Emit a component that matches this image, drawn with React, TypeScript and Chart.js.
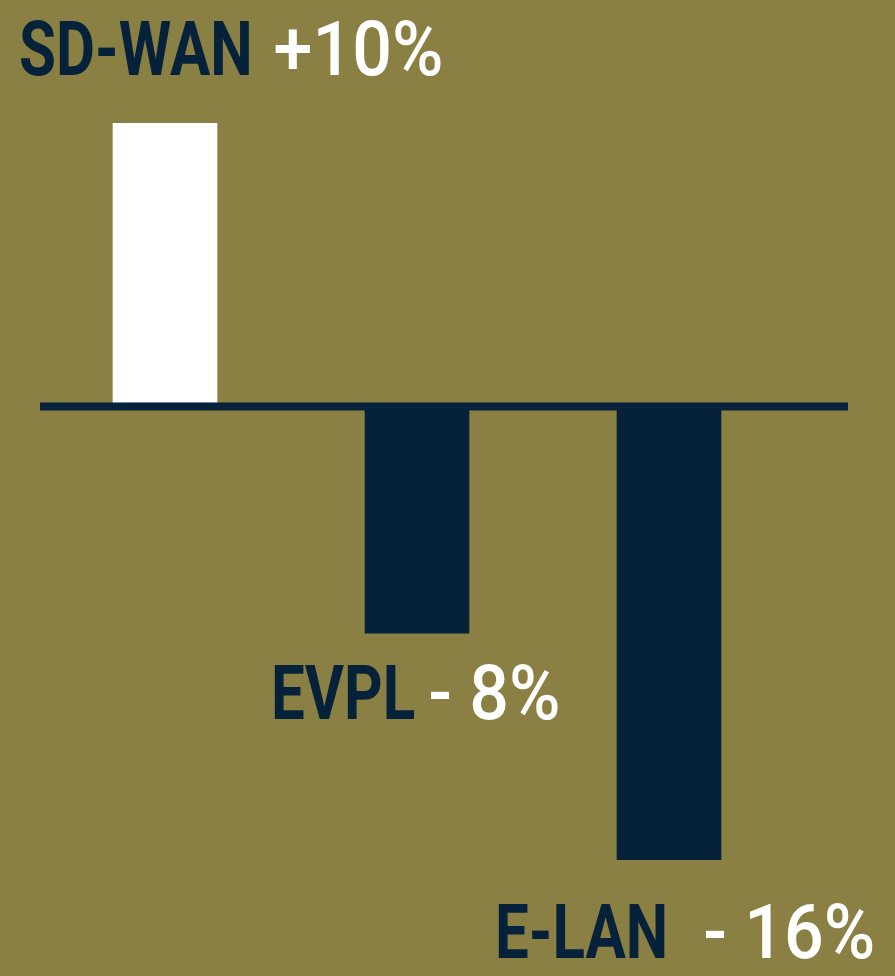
import React, { useEffect, useRef } from "react";
import { Chart, registerables } from "chart.js";

Chart.register(...registerables);

const categories = ["SD-WAN", "EVPL", "E-LAN"];
const values = [10, -8, -16];
const valueLabels = ["+10%", "- 8%", "- 16%"];

const BG = "#8B8044";
const NAVY = "#06223A";
const barColors = ["#FFFFFF", NAVY, NAVY];

const W = 895;
const H = 976;

// label placement (style only)
const labelLayout = [
  { x: 19, y: 75, gap: 21 },
  { x: 271, y: 719, gap: 13 },
  { x: 495, y: 958, gap: 35 },
];

const NAME_CONDENSE = 0.79;
const VALUE_CONDENSE = 0.92;

function drawCondensed(ctx: CanvasRenderingContext2D, text: string, x: number, y: number, k: number) {
  ctx.save();
  ctx.translate(x, y);
  ctx.scale(k, 1);
  ctx.fillText(text, 0, 0);
  const w = ctx.measureText(text).width * k;
  ctx.restore();
  return w;
}

const decorPlugin = {
  id: "decor",
  beforeDraw(chart: any) {
    const ctx = chart.ctx;
    ctx.save();
    ctx.fillStyle = BG;
    ctx.fillRect(0, 0, chart.width, chart.height);
    ctx.restore();
  },
  afterDatasetsDraw(chart: any) {
    const ctx = chart.ctx;
    const y0 = chart.scales.y.getPixelForValue(0);
    const area = chart.chartArea;
    ctx.save();
    ctx.fillStyle = NAVY;
    ctx.fillRect(area.left + 1, y0 - 4, area.right - area.left + 52, 8);
    ctx.textBaseline = "alphabetic";
    ctx.textAlign = "left";
    categories.forEach((cat, i) => {
      const L = labelLayout[i];
      ctx.font = "bold 76px Roboto";
      ctx.fillStyle = NAVY;
      const w = drawCondensed(ctx, cat, L.x, L.y, NAME_CONDENSE);
      ctx.font = "500 76px Roboto";
      ctx.fillStyle = "#FFFFFF";
      drawCondensed(ctx, valueLabels[i], L.x + w + L.gap, L.y, VALUE_CONDENSE);
    });
    ctx.restore();
  },
};

export default function App() {
  const ref = useRef<HTMLCanvasElement>(null);
  useEffect(() => {
    document.body.style.margin = "0";
    const chart = new Chart(ref.current!, {
      type: "bar",
      data: {
        labels: categories,
        datasets: [
          {
            data: values,
            backgroundColor: barColors,
            borderWidth: 0,
            barThickness: 104,
          },
        ],
      },
      options: {
        animation: false,
        responsive: false,
        devicePixelRatio: 1,
        layout: { padding: { left: 39, right: 100, top: 123, bottom: 116 } },
        plugins: { legend: { display: false }, tooltip: { enabled: false } },
        scales: {
          x: { display: false, offset: true, grid: { display: false } },
          y: { display: false, min: -16, max: 10, grid: { display: false } },
        },
      },
      plugins: [decorPlugin],
    });
    return () => chart.destroy();
  }, []);
  return <canvas ref={ref} width={W} height={H} style={{ display: "block" }} />;
}
